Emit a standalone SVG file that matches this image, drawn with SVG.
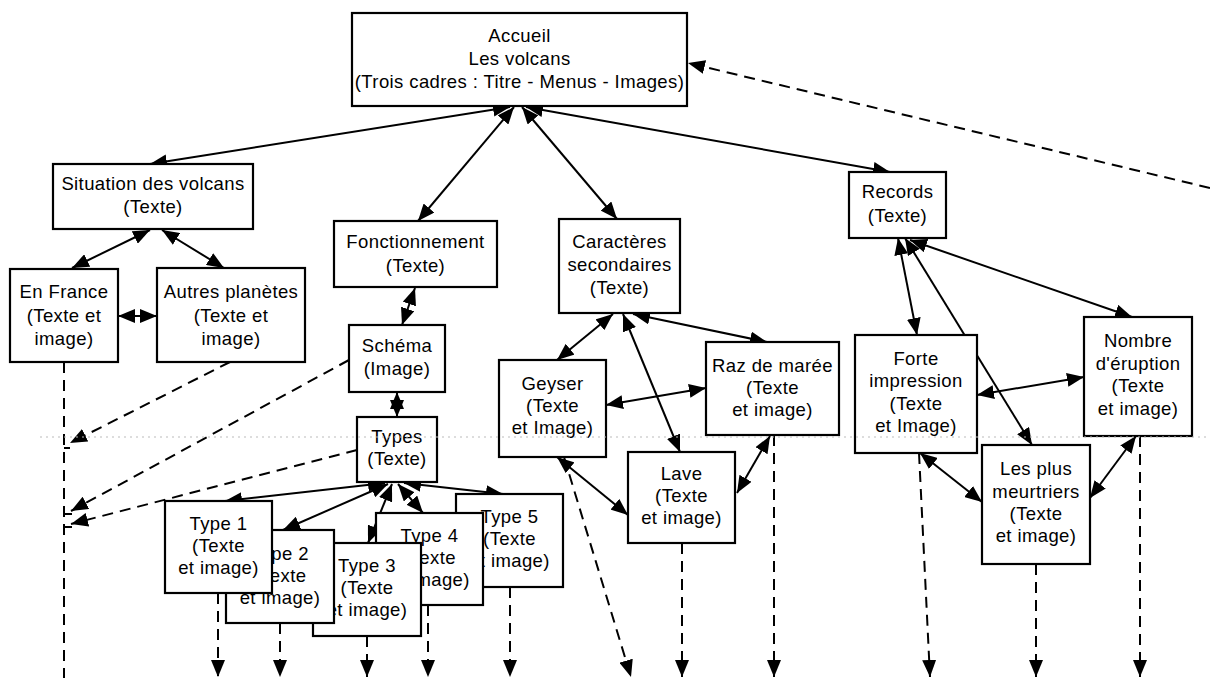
<svg xmlns="http://www.w3.org/2000/svg" width="1210" height="678" viewBox="0 0 1210 678">
<defs>
<marker id="ah" markerUnits="userSpaceOnUse" markerWidth="18" markerHeight="14" refX="17" refY="7" orient="auto-start-reverse"><path d="M0,0 L17,7 L0,14 z" fill="#000"/></marker>
<style>
.box{fill:#fff;stroke:#000;stroke-width:2.2}
.t{font-family:"Liberation Sans",Arial,sans-serif;font-size:18.5px;letter-spacing:0.4px;fill:#000;text-anchor:middle}
.c{fill:none;stroke:#000;stroke-width:2}
.d{marker-start:url(#ah);marker-end:url(#ah)}
.e{marker-end:url(#ah)}
.dash{fill:none;stroke:#000;stroke-width:2;stroke-dasharray:11,7}
</style>
</defs>
<rect width="1210" height="678" fill="#fff"/>
<g id="connectors">
<path class="c d" d="M510,107 L150,164"/>
<path class="c d" d="M514,107 L418,221"/>
<path class="c d" d="M522,107 L617,219"/>
<path class="c d" d="M526,107 L890,172"/>
<path class="c d" d="M150,230 L72,268"/>
<path class="c d" d="M162,230 L224,268"/>
<path class="c d" d="M118,316 L157,316"/>
<path class="c d" d="M415,288 L402,325"/>
<path class="c d" d="M397,392 L397,417"/>
<path class="c d" d="M385,483 L225,501"/>
<path class="c d" d="M388,484 L283,530"/>
<path class="c d" d="M392,484 L368,543"/>
<path class="c d" d="M398,484 L423,513"/>
<path class="c d" d="M404,483 L503,494"/>
<path class="c d" d="M613,314 L557,360"/>
<path class="c d" d="M623,314 L680,452"/>
<path class="c d" d="M633,314 L767,342"/>
<path class="c d" d="M606,405 L706,388"/>
<path class="c d" d="M770,436 L737,493"/>
<path class="c d" d="M557,457 L628,515"/>
<path class="c d" d="M898,238 L917,335"/>
<path class="c d" d="M905,238 L1032,445"/>
<path class="c d" d="M910,240 L1132,317"/>
<path class="c d" d="M977,395 L1084,377"/>
<path class="c d" d="M920,453 L982,502"/>
<path class="c d" d="M1136,436 L1090,498"/>
<path class="dash e" d="M1210,188 L688,63"/>
<path class="dash" d="M64,362 L64,678"/>
<path class="dash e" d="M230,362 L70,443"/>
<path class="dash e" d="M349,360 L71,511"/>
<path class="dash e" d="M357,450 L71,524"/>
<path class="c" d="M64,448 H70 M64,514 H72 M64,527 H72"/>
<path class="dash e" d="M218,593 L218,677"/>
<path class="dash e" d="M280,623 L280,677"/>
<path class="dash e" d="M367,636 L367,677"/>
<path class="dash e" d="M428,605 L428,677"/>
<path class="dash e" d="M510,587 L510,677"/>
<path class="dash e" d="M564,457 L631,677"/>
<path class="dash e" d="M682,543 L682,677"/>
<path class="dash e" d="M774,435 L774,677"/>
<path class="dash e" d="M919,453 L930,677"/>
<path class="dash e" d="M1036,564 L1036,677"/>
<path class="dash e" d="M1140,436 L1140,677"/>
</g>
<g id="accueil"><rect class="box" x="352" y="13" width="335" height="93"/>
<text class="t" x="519.5" y="42">Accueil</text><text class="t" x="519.5" y="65">Les volcans</text><text class="t" x="519.5" y="88">(Trois cadres : Titre - Menus - Images)</text></g>
<g id="situation"><rect class="box" x="53" y="164" width="200" height="65"/>
<text class="t" x="153" y="190">Situation des volcans</text><text class="t" x="153" y="213">(Texte)</text></g>
<g id="enfrance"><rect class="box" x="10" y="269" width="108" height="93"/>
<text class="t" x="64" y="298">En France</text><text class="t" x="64" y="322">(Texte et</text><text class="t" x="64" y="345">image)</text></g>
<g id="autres"><rect class="box" x="157" y="268" width="148" height="94"/>
<text class="t" x="231" y="298">Autres planètes</text><text class="t" x="231" y="322">(Texte et</text><text class="t" x="231" y="345">image)</text></g>
<g id="fonctionnement"><rect class="box" x="334" y="221" width="163" height="66"/>
<text class="t" x="415.5" y="248">Fonctionnement</text><text class="t" x="415.5" y="272">(Texte)</text></g>
<g id="schema"><rect class="box" x="349" y="325" width="96" height="67"/>
<text class="t" x="397" y="352">Schéma</text><text class="t" x="397" y="375">(Image)</text></g>
<g id="types"><rect class="box" x="357" y="417" width="80" height="65"/>
<text class="t" x="397" y="443">Types</text><text class="t" x="397" y="465">(Texte)</text></g>
<g id="type5"><rect class="box" x="456" y="494" width="107" height="93"/>
<text class="t" x="509.5" y="523">Type 5</text><text class="t" x="509.5" y="545">(Texte</text><text class="t" x="509.5" y="567">et image)</text></g>
<g id="type4"><rect class="box" x="376" y="513" width="107" height="92"/>
<text class="t" x="429.5" y="542">Type 4</text><text class="t" x="429.5" y="564">(Texte</text><text class="t" x="429.5" y="586">et image)</text></g>
<g id="type3"><rect class="box" x="313" y="543" width="108" height="93"/>
<text class="t" x="367" y="572">Type 3</text><text class="t" x="367" y="594">(Texte</text><text class="t" x="367" y="616">et image)</text></g>
<g id="type2"><rect class="box" x="226" y="530" width="108" height="93"/>
<text class="t" x="280" y="560">Type 2</text><text class="t" x="280" y="582">(Texte</text><text class="t" x="280" y="604">et image)</text></g>
<g id="type1"><rect class="box" x="165" y="501" width="107" height="92"/>
<text class="t" x="218.5" y="530">Type 1</text><text class="t" x="218.5" y="552">(Texte</text><text class="t" x="218.5" y="574">et image)</text></g>
<g id="caracteres"><rect class="box" x="559" y="219" width="121" height="94"/>
<text class="t" x="619.5" y="248">Caractères</text><text class="t" x="619.5" y="271">secondaires</text><text class="t" x="619.5" y="294">(Texte)</text></g>
<g id="geyser"><rect class="box" x="499" y="360" width="107" height="97"/>
<text class="t" x="552.5" y="390">Geyser</text><text class="t" x="552.5" y="412">(Texte</text><text class="t" x="552.5" y="434">et Image)</text></g>
<g id="raz"><rect class="box" x="706" y="342" width="133" height="93"/>
<text class="t" x="772.5" y="372">Raz de marée</text><text class="t" x="772.5" y="394">(Texte</text><text class="t" x="772.5" y="416">et image)</text></g>
<g id="lave"><rect class="box" x="628" y="452" width="107" height="91"/>
<text class="t" x="681.5" y="480">Lave</text><text class="t" x="681.5" y="502">(Texte</text><text class="t" x="681.5" y="524">et image)</text></g>
<g id="records"><rect class="box" x="849" y="172" width="97" height="66"/>
<text class="t" x="897.5" y="198">Records</text><text class="t" x="897.5" y="222">(Texte)</text></g>
<g id="forte"><rect class="box" x="855" y="335" width="122" height="118"/>
<text class="t" x="916" y="365">Forte</text><text class="t" x="916" y="387">impression</text><text class="t" x="916" y="410">(Texte</text><text class="t" x="916" y="432">et Image)</text></g>
<g id="nombre"><rect class="box" x="1084" y="317" width="108" height="119"/>
<text class="t" x="1138" y="347">Nombre</text><text class="t" x="1138" y="370">d'éruption</text><text class="t" x="1138" y="392">(Texte</text><text class="t" x="1138" y="415">et image)</text></g>
<g id="lesplus"><rect class="box" x="982" y="445" width="108" height="119"/>
<text class="t" x="1036" y="475">Les plus</text><text class="t" x="1036" y="498">meurtriers</text><text class="t" x="1036" y="520">(Texte</text><text class="t" x="1036" y="542">et image)</text></g>
<path d="M40,437 H1210" stroke="#bbb" stroke-width="1" stroke-dasharray="2,4" fill="none"/>
</svg>
